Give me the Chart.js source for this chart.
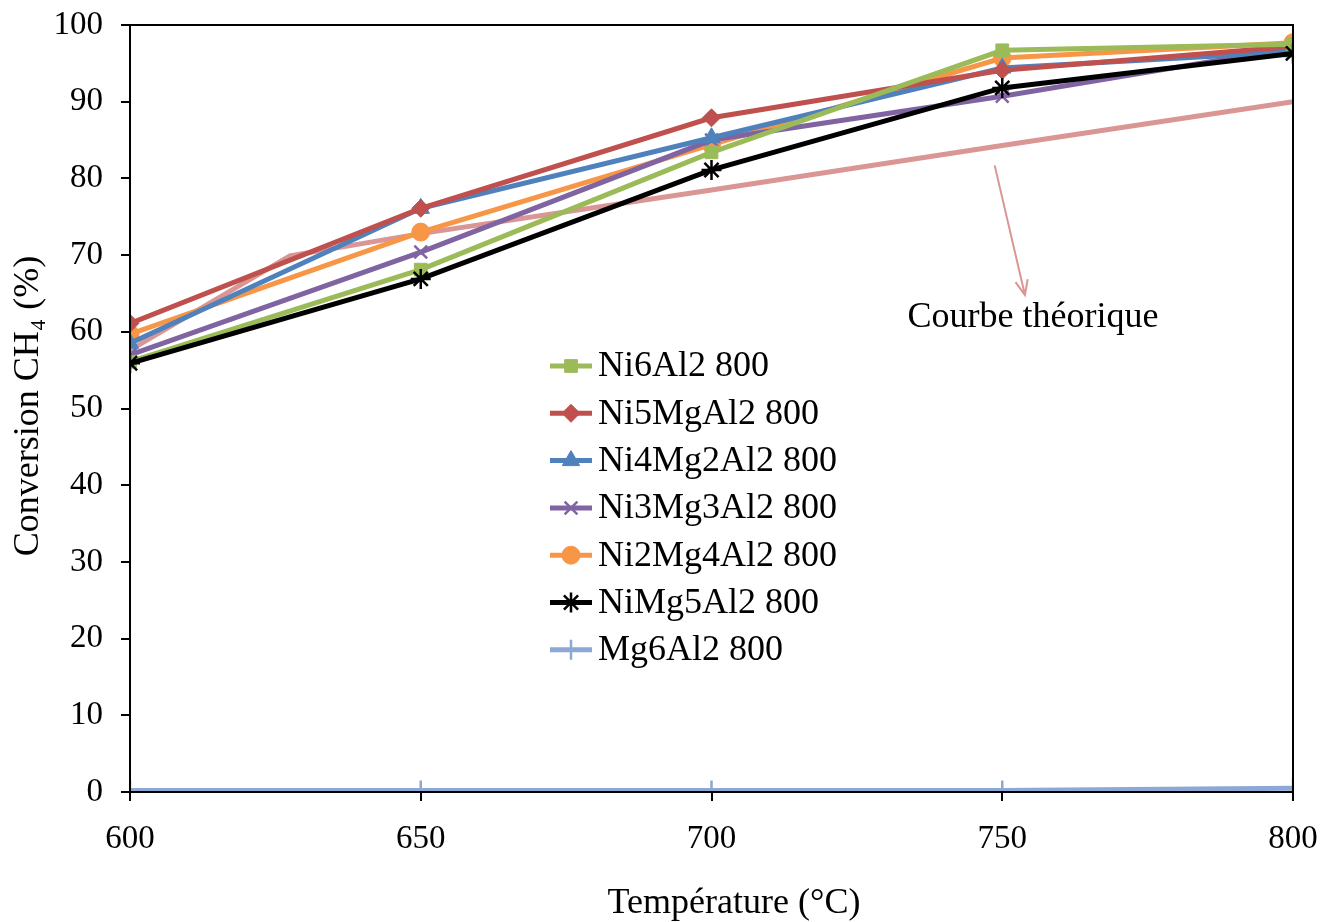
<!DOCTYPE html>
<html>
<head>
<meta charset="utf-8">
<script src="https://cdn.jsdelivr.net/npm/chart.js@4.4.1/dist/chart.umd.min.js"></script>
<style>
  html, body { margin: 0; padding: 0; background: #fff; }
  #wrap { width: 1337px; height: 922px; }
</style>
</head>
<body>
<div id="wrap"><canvas id="chartLine" width="1337" height="922"></canvas></div>
<script>
// valeurs
var temperatures = [600, 650, 700, 750, 800];
var ni6Al2 = [56.1, 68.1, 83.4, 96.7, 97.5];
var ni5MgAl2 = [61.1, 76.1, 87.9, 94.1, 97.2];
var ni4Mg2Al2 = [58.5, 76.1, 85.3, 94.4, 96.5];
var ni3Mg3Al2 = [57.0, 70.4, 85.0, 90.7, 97.0];
var ni2Mg4Al2 = [59.7, 73.0, 84.4, 95.7, 97.7];
var niMg5Al2 = [55.9, 66.9, 81.1, 91.8, 96.3];
var mg6Al2 = [0.2, 0.2, 0.2, 0.2, 0.5];

// courbe théorique
var theoT = [600, 627.5, 650, 700, 750, 800];
var theoConv = [57.6, 69.9, 72.8, 78.5, 84.3, 90.0];

var xTicks = [600, 650, 700, 750, 800];
var yTicks = [0, 10, 20, 30, 40, 50, 60, 70, 80, 90, 100];

var serif = "'Liberation Serif', 'Times New Roman', serif";

function pts(xs, ys) {
    var out = [];
    for (var i = 0; i < xs.length; i++) {
        out.push({ x: xs[i], y: ys[i] });
    }
    return out;
}

function serie(label, values, color, style, radius) {
    return {
        label: label,
        data: pts(temperatures, values),
        borderColor: color,
        backgroundColor: color,
        borderWidth: 5,
        pointStyle: style,
        pointRadius: radius,
        pointBorderWidth: (style === 'crossRot' || style === 'star' || style === 'cross') ? 2.5 : 1,
        pointBorderColor: color,
        pointBackgroundColor: color,
        tension: 0
    };
}

var datasets = [
    serie('NiMg5Al2 800', niMg5Al2, '#000000', 'star', 10),
    serie('Ni6Al2 800', ni6Al2, '#9BBB59', 'rect', 9),
    serie('Ni5MgAl2 800', ni5MgAl2, '#C0504D', 'rectRot', 9),
    serie('Ni4Mg2Al2 800', ni4Mg2Al2, '#4F81BD', 'triangle', 10),
    serie('Ni3Mg3Al2 800', ni3Mg3Al2, '#8064A2', 'crossRot', 9),
    serie('Ni2Mg4Al2 800', ni2Mg4Al2, '#F79646', 'circle', 9),
    serie('Mg6Al2 800', mg6Al2, '#8CA8D4', 'cross', 10),
    {
        label: 'Courbe théorique',
        data: pts(theoT, theoConv),
        borderColor: '#D99694',
        borderWidth: 5,
        pointRadius: 0,
        tension: 0
    }
];

var legendOrder = ['Ni6Al2 800', 'Ni5MgAl2 800', 'Ni4Mg2Al2 800', 'Ni3Mg3Al2 800',
    'Ni2Mg4Al2 800', 'NiMg5Al2 800', 'Mg6Al2 800'];

// cadre, légende, flèche et titres des axes, dessinés à la main
var extrasPlugin = {
    id: 'extras',
    afterDatasetsDraw: function (chart) {
        var ctx = chart.ctx;
        var a = chart.chartArea;
        var xs = chart.scales.x, ys = chart.scales.y;
        ctx.save();

        // cadre
        ctx.strokeStyle = '#000';
        ctx.lineWidth = 2;
        ctx.strokeRect(a.left, a.top, a.right - a.left, a.bottom - a.top);

        // flèche vers la courbe théorique
        var x1 = xs.getPixelForValue(748.7), y1 = ys.getPixelForValue(81.7);
        var x2 = xs.getPixelForValue(753.9), y2 = ys.getPixelForValue(64.8);
        ctx.strokeStyle = '#D99694';
        ctx.lineWidth = 2;
        ctx.beginPath();
        ctx.moveTo(x1, y1);
        ctx.lineTo(x2, y2);
        var ang = Math.atan2(y2 - y1, x2 - x1);
        ctx.moveTo(x2 - 16 * Math.cos(ang - 0.4), y2 - 16 * Math.sin(ang - 0.4));
        ctx.lineTo(x2, y2);
        ctx.lineTo(x2 - 16 * Math.cos(ang + 0.4), y2 - 16 * Math.sin(ang + 0.4));
        ctx.stroke();

        ctx.fillStyle = '#000';
        ctx.font = '36px ' + serif;
        ctx.textAlign = 'center';
        ctx.textBaseline = 'middle';
        ctx.fillText('Courbe théorique', xs.getPixelForValue(755.3), ys.getPixelForValue(61.8));

        // titres des axes
        ctx.fillText('Température (°C)', 734, 904);
        ctx.save();
        ctx.translate(29, 406);
        ctx.rotate(-Math.PI / 2);
        ctx.fillText('Conversion CH₄ (%)', 0, 0);
        ctx.restore();

        // légende
        var lx = 550, ly = 366, step = 47.3;
        ctx.textAlign = 'left';
        for (var i = 0; i < legendOrder.length; i++) {
            var ds = chart.data.datasets.find(function (d) { return d.label === legendOrder[i]; });
            var y = ly + i * step;
            ctx.strokeStyle = ds.borderColor;
            ctx.lineWidth = 5;
            ctx.beginPath();
            ctx.moveTo(lx, y);
            ctx.lineTo(lx + 42, y);
            ctx.stroke();
            ctx.fillStyle = ds.backgroundColor;
            ctx.lineWidth = ds.pointBorderWidth;
            Chart.helpers.drawPoint(ctx, {
                pointStyle: ds.pointStyle,
                radius: ds.pointRadius,
                rotation: 0,
                borderWidth: ds.pointBorderWidth
            }, lx + 21, y);
            ctx.fillStyle = '#000';
            ctx.fillText(ds.label, lx + 48, y + 1);
        }
        ctx.restore();
    }
};

var chartInstance = new Chart(document.getElementById('chartLine'), {
    type: 'line',
    data: { datasets: datasets },
    options: {
        responsive: false,
        animation: false,
        layout: { padding: { top: 25, right: 44, left: 0, bottom: 0 } },
        plugins: {
            legend: { display: false },
            tooltip: { enabled: false }
        },
        scales: {
            x: {
                type: 'linear',
                min: 600,
                max: 800,
                afterFit: function (s) { s.height = 130; s.paddingLeft = 0; s.paddingRight = 0; },
                afterBuildTicks: function (s) { s.ticks = xTicks.map(function (v) { return { value: v }; }); },
                ticks: {
                    color: '#000',
                    font: { family: serif, size: 33 },
                    padding: 19,
                    maxRotation: 0
                },
                grid: { drawOnChartArea: false, drawTicks: true, tickLength: 9, color: '#000', lineWidth: 2 },
                border: { color: '#000', width: 2 }
            },
            y: {
                min: 0,
                max: 100,
                afterFit: function (s) { s.width = 130; s.paddingTop = 0; s.paddingBottom = 0; },
                afterBuildTicks: function (s) { s.ticks = yTicks.map(function (v) { return { value: v }; }); },
                ticks: {
                    color: '#000',
                    font: { family: serif, size: 33 },
                    padding: 18
                },
                grid: { drawOnChartArea: false, drawTicks: true, tickLength: 9, color: '#000', lineWidth: 2 },
                border: { color: '#000', width: 2 }
            }
        }
    },
    plugins: [extrasPlugin]
});
</script>
</body>
</html>
